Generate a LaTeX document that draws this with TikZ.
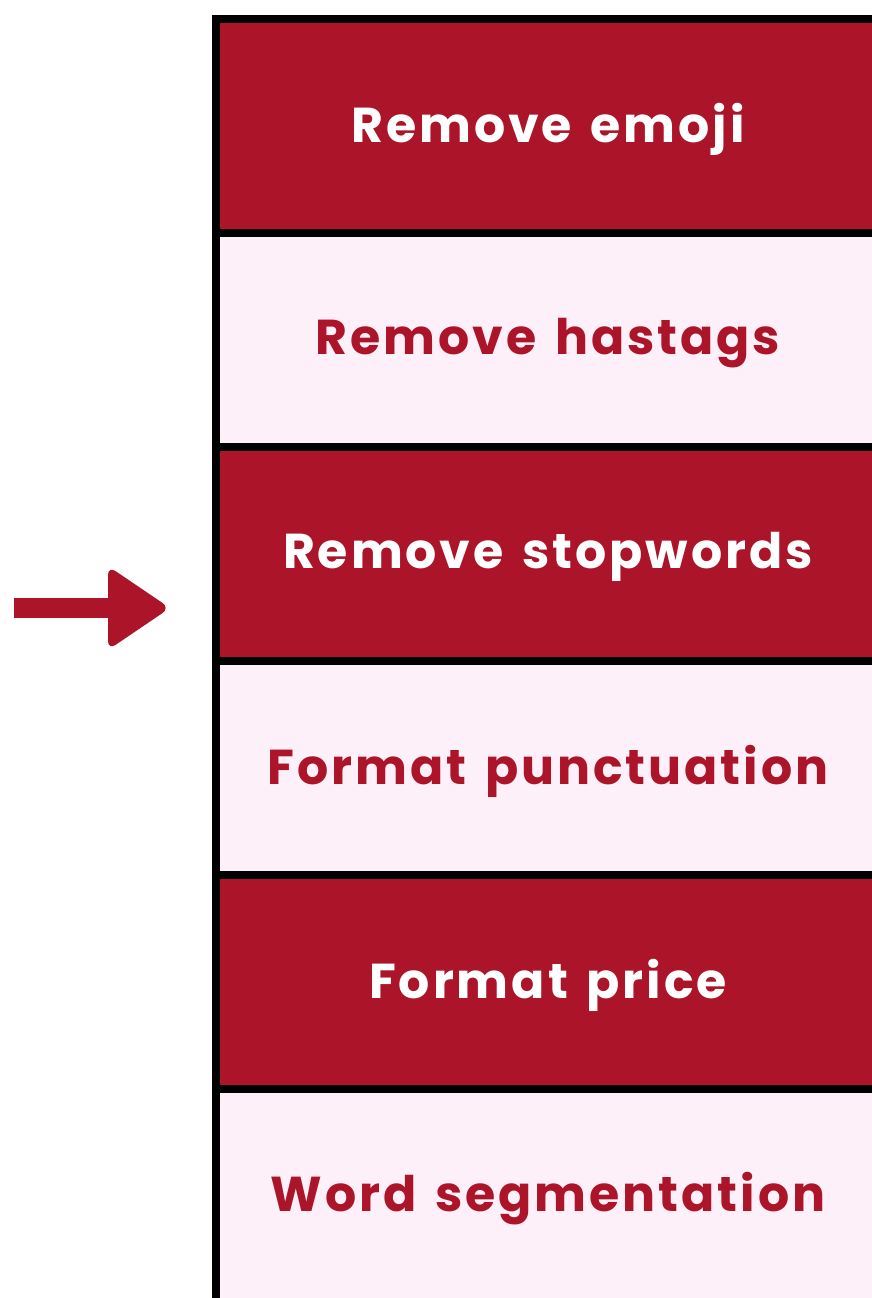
\documentclass[tikz,border=0pt]{standalone}
\usepackage{fontspec}
\newfontfamily\stepfont[LetterSpace=6, WordSpace=1.4]{Poppins}
\definecolor{wine}{RGB}{171,20,41}
\definecolor{blush}{RGB}{253,240,249}
\tikzset{
  stage/.style={draw=black, line width=8pt, minimum width=700pt, minimum height=214pt,
    anchor=north west, inner sep=0pt, outer sep=0pt},
  darkstage/.style={stage, fill=wine},
  lightstage/.style={stage, fill=blush},
  darklabel/.style={text=white, font=\stepfont\bfseries\fontsize{49}{52}\selectfont},
  lightlabel/.style={text=wine, font=\stepfont\bfseries\fontsize{49}{52}\selectfont},
}
\begin{document}
\begin{tikzpicture}[x=1pt,y=-1pt]
\useasboundingbox (0,0) rectangle (872,1298);
\clip (0,0) rectangle (872,1298);
% stacked processing stages
\node[darkstage]  (s1) at (216,19)   {};
\node[lightstage] (s2) at (216,233)  {};
\node[darkstage]  (s3) at (216,447)  {};
\node[lightstage] (s4) at (216,661)  {};
\node[darkstage]  (s5) at (216,875)  {};
\node[lightstage] (s6) at (216,1089) {};
% labels
\node[darklabel]  (t1) at (548,129)  {Remove emoji};
\node[lightlabel] (t2) at (548,343)  {Remove hastags};
\node[darklabel]  (t3) at (548,557)  {Remove stopwords};
\node[lightlabel] (t4) at (548,771)  {Format punctuation};
\node[darklabel]  (t5) at (548,985)  {Format price};
\node[lightlabel] (t6) at (548,1199) {Word segmentation};
% incoming arrow
\fill[wine] (14,598) rectangle (112,618);
\fill[wine, rounded corners=9pt] (108,566) -- (170,608) -- (108,650) -- cycle;
\end{tikzpicture}
\end{document}
